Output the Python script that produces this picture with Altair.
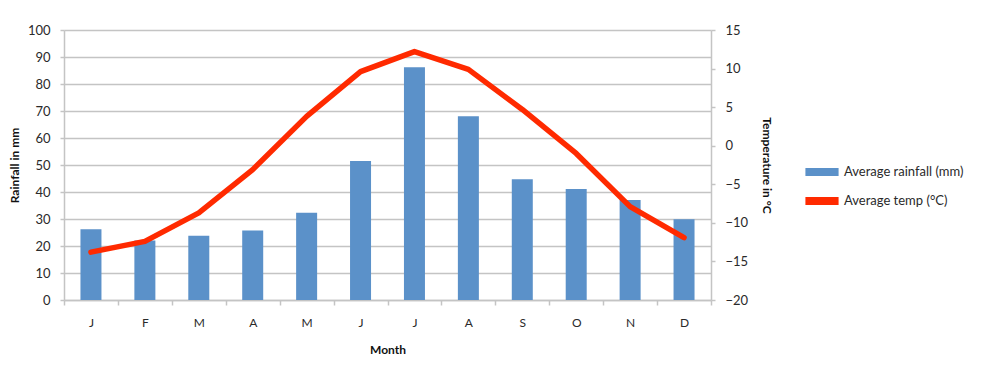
import altair as alt
import pandas as pd

months = ["J", "F", "M", "A", "M ", "J ", "J  ", "A ", "S", "O", "N", "D"]
month_labels = ["J", "F", "M", "A", "M", "J", "J", "A", "S", "O", "N", "D"]
rainfall = [26.2, 22.0, 23.8, 25.7, 32.3, 51.5, 86.2, 68.1, 44.7, 41.1, 37.0, 29.9]
temperature = [-13.8, -12.4, -8.7, -3.1, 3.8, 9.6, 12.2, 9.9, 4.7, -1.0, -7.9, -11.9]
series_names = ["Average rainfall (mm)", "Average temp (°C)"]
series_colors = ["#5b91c9", "#ff2a00"]

df = pd.DataFrame({
    "month": months,
    "rain": rainfall,
    "temp": temperature,
    "series": series_names[1],
})

FONT = "Lato"
GRID = "#c4c4c4"

label_map = "{" + ",".join(f"'{m}':'{l}'" for m, l in zip(months, month_labels)) + "}"

x = alt.X(
    "month:N",
    sort=months,
    scale=alt.Scale(paddingInner=0, paddingOuter=0),
    axis=alt.Axis(
        title="Month",
        labelExpr=f"{label_map}[datum.value]",
        labelAngle=0,
        tickBand="extent",
        tickSize=5,
        tickColor=GRID,
        tickWidth=1.5,
        domainColor=GRID,
        domainWidth=1.5,
        labelPadding=12,
        titlePadding=16,
        labelFont=FONT,
        labelFontSize=12,
        labelColor="#2a2a2a",
        titleFont=FONT,
        titleFontSize=12,
        titleFontWeight="bold",
        titleColor="#111111",
    ),
)

bars = alt.Chart(df).mark_bar(size=21, color=series_colors[0]).encode(
    x=x,
    y=alt.Y(
        "rain:Q",
        scale=alt.Scale(domain=[0, 100], nice=False, zero=True),
        axis=alt.Axis(
            title="Rainfall in mm",
            values=list(range(0, 101, 10)),
            grid=True,
            gridColor=GRID,
            gridWidth=1.5,
            tickSize=4,
            tickColor=GRID,
            tickWidth=1.5,
            domainColor=GRID,
            domainWidth=1.5,
            labelPadding=10,
            titlePadding=6,
            labelFont=FONT,
            labelFontSize=13,
            labelColor="#2a2a2a",
            titleFont=FONT,
            titleFontSize=12,
            titleFontWeight="bold",
            titleColor="#111111",
        ),
    ),
)

line = alt.Chart(df).mark_line(strokeWidth=5.5, strokeJoin="round", strokeCap="round").encode(
    x=x,
    y=alt.Y(
        "temp:Q",
        scale=alt.Scale(domain=[-20, 15], nice=False, zero=False),
        axis=alt.Axis(
            title="Temperature in °C",
            orient="right",
            values=list(range(-20, 16, 5)),
            grid=False,
            tickSize=4,
            tickColor=GRID,
            tickWidth=1.5,
            domainColor=GRID,
            domainWidth=1.5,
            labelPadding=10,
            titlePadding=12,
            labelFont=FONT,
            labelFontSize=13,
            labelColor="#2a2a2a",
            titleFont=FONT,
            titleFontSize=12,
            titleFontWeight="bold",
            titleColor="#111111",
        ),
    ),
    color=alt.Color(
        "series:N",
        scale=alt.Scale(domain=series_names, range=series_colors),
        legend=alt.Legend(
            title=None,
            orient="none",
            legendX=737,
            legendY=134,
            symbolType="stroke",
            symbolSize=1100,
            symbolStrokeWidth=8,
            clipHeight=16,
            rowPadding=13,
            labelFont=FONT,
            labelFontSize=13,
            labelColor="#2a2a2a",
            labelOffset=1,
        ),
    ),
)

chart = (
    alt.layer(bars, line)
    .resolve_scale(y="independent")
    .properties(
        width=647,
        height=270,
        autosize=alt.AutoSizeParams(type="none"),
        padding={"left": 56, "top": 22, "right": 281, "bottom": 58},
    )
    .configure_view(stroke=None)
)

chart.save("out.html", embed_options={"renderer": "svg", "actions": False})
